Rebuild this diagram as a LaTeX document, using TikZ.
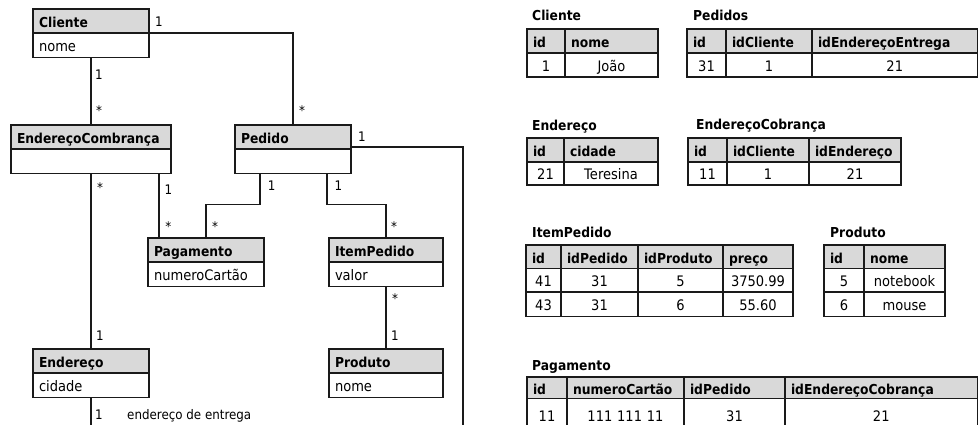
\documentclass[tikz,border=0pt]{standalone}
\usepackage{fontspec}
\setmainfont{DejaVu Sans}[FakeStretch=0.9]
\usetikzlibrary{calc}

\definecolor{headgray}{HTML}{D9D9D9}
\definecolor{ink}{HTML}{1A1A1A}

\newcommand\regfont{\fontsize{14.5}{16}\selectfont}
\newcommand\boldfont{\fontsize{13.7}{16}\selectfont\bfseries}
\newcommand\labfont{\fontsize{13.2}{15}\selectfont}

\tikzset{
  cellbox/.style={draw=ink, line width=1.1pt, inner xsep=6pt, inner ysep=0pt,
    outer sep=0pt, text height=12.5pt, text depth=0pt},
  uhead/.style={cellbox, fill=headgray, font=\boldfont, align=left, minimum height=24pt},
  ubody/.style={cellbox, fill=white, font=\regfont, align=left, minimum height=24.5pt},
  thead/.style={cellbox, fill=headgray, font=\boldfont, align=left},
  tdata/.style={cellbox, fill=white, font=\regfont, align=center},
  ttitle/.style={font=\boldfont, anchor=base west, inner sep=0pt},
  mult/.style={font=\labfont, anchor=base, inner sep=0pt},
  link/.style={draw=ink, line width=1.4pt},
}

% UML class: name, x, y, width, title, attribute
\newcommand\umlclass[6]{%
  \pgfmathsetmacro\ucw{#4-12}%
  \node[uhead, anchor=north west, text width=\ucw pt, minimum width=#4pt] (#1) at (#2,#3) {#5};
  \node[ubody, anchor=north, text width=\ucw pt, minimum width=#4pt] (#1-a) at (#1.south) {#6};
}

% table cell: style, name, x1, y1, x2, y2, text
\newcommand\tcell[7]{%
  \pgfmathsetmacro\tcw{#5-#3}%
  \pgfmathsetmacro\tch{#6-#4}%
  \pgfmathsetmacro\tctw{#5-#3-12}%
  \node[#1, anchor=north west, minimum width=\tcw pt, minimum height=\tch pt,
    text width=\tctw pt] (#2) at (#3,#4) {#7};
}

\begin{document}
\begin{tikzpicture}[x=1pt, y=-1pt]
\useasboundingbox (0,0) rectangle (978,425);
\clip (0,0) rectangle (978,425);

% ---------------- class diagram ----------------
\umlclass{cliente}{33}{9}{116}{Cliente}{nome}
\umlclass{ec}{11}{125}{160}{EndereçoCombrança}{}
\umlclass{pedido}{235}{125}{116}{Pedido}{}
\umlclass{pagamento}{148}{238}{116}{Pagamento}{numeroCartão}
\umlclass{item}{329}{238}{114}{ItemPedido}{valor}
\umlclass{endereco}{33}{349}{116}{Endereço}{cidade}
\umlclass{produto}{329}{349}{114}{Produto}{nome}

\coordinate (pedido-end) at (463,428);
\coordinate (entrega-end) at (91,428);

\draw[link] (cliente.south east) -| (pedido.north);
\draw[link] (cliente-a.south) -- (cliente-a.south |- ec.north);
\draw[link] (ec-a.south) -- (ec-a.south |- endereco.north);
\draw[link] ($(ec-a.south east)+(-12,0)$) coordinate (ecp) -- (ecp |- pagamento.north);
\draw[link] ($(pedido-a.south west)+(25,0)$) -- ++(0,31) -| (pagamento.north);
\draw[link] ($(pedido-a.south east)+(-24,0)$) -- ++(0,31) -| (item.north);
\draw[link] (item-a.south) -- (produto.north);
\draw[link] ($(pedido.south east)+(0,-2)$) -| (pedido-end);
\draw[link] (endereco-a.south) -- (entrega-end);

\node[mult] (m1)  at (159,26.7)   {1};
\node[mult] (m2)  at (99,80)      {1};
\node[mult] (m3)  at (99,116)     {*};
\node[mult] (m4)  at (302,116)    {*};
\node[mult] (m5)  at (362,141.7)  {1};
\node[mult] (m6)  at (100,193)    {*};
\node[mult] (m7)  at (168.5,194)  {1};
\node[mult] (m8)  at (271.7,190.7){1};
\node[mult] (m9)  at (338.3,190.7){1};
\node[mult] (m10) at (168.3,231)  {*};
\node[mult] (m11) at (215,231)    {*};
\node[mult] (m12) at (394,231)    {*};
\node[mult] (m13) at (395,303)    {*};
\node[mult] (m14) at (395,340.7)  {1};
\node[mult] (m15) at (100,340.7)  {1};
\node[mult] (m16) at (99,419)     {1};
\node[font=\labfont, anchor=base west, inner sep=0pt] (entrega) at (127,419) {endereço de entrega};

% ---------------- tables ----------------
\node[ttitle] (t-cliente) at (532,21) {Cliente};
\foreach \xa/\xb/\t [count=\i] in {527/565/id, 565/658/nome}
  {\tcell{thead}{cl-h\i}{\xa}{29}{\xb}{53}{\t}}
\foreach \xa/\xb/\t [count=\i] in {527/565/1, 565/658/João}
  {\tcell{tdata}{cl-d\i}{\xa}{53}{\xb}{77}{\t}}

\node[ttitle] (t-pedidos) at (693,21) {Pedidos};
\foreach \xa/\xb/\t [count=\i] in {687/726/id, 726/812/idCliente, 812/977.5/idEndereçoEntrega}
  {\tcell{thead}{pe-h\i}{\xa}{29}{\xb}{53}{\t}}
\foreach \xa/\xb/\t [count=\i] in {687/726/31, 726/812/1, 812/977.5/21}
  {\tcell{tdata}{pe-d\i}{\xa}{53}{\xb}{77}{\t}}

\node[ttitle] (t-endereco) at (532,131) {Endereço};
\foreach \xa/\xb/\t [count=\i] in {527/564/id, 564/658/cidade}
  {\tcell{thead}{en-h\i}{\xa}{138}{\xb}{162}{\t}}
\foreach \xa/\xb/\t [count=\i] in {527/564/21, 564/658/Teresina}
  {\tcell{tdata}{en-d\i}{\xa}{162}{\xb}{185}{\t}}

\node[ttitle] (t-ecob) at (696,130) {EndereçoCobrança};
\foreach \xa/\xb/\t [count=\i] in {688/727/id, 727/809/idCliente, 809/901/idEndereço}
  {\tcell{thead}{ecb-h\i}{\xa}{138}{\xb}{162}{\t}}
\foreach \xa/\xb/\t [count=\i] in {688/727/11, 727/809/1, 809/901/21}
  {\tcell{tdata}{ecb-d\i}{\xa}{162}{\xb}{185}{\t}}

\node[ttitle] (t-item) at (532,237) {ItemPedido};
\foreach \xa/\xb/\t [count=\i] in {526/561/id, 561/638/idPedido, 638/723/idProduto, 723/793/preço}
  {\tcell{thead}{it-h\i}{\xa}{245}{\xb}{268.5}{\t}}
\foreach \xa/\xb/\t [count=\i] in {526/561/41, 561/638/31, 638/723/5, 723/793/3750.99}
  {\tcell{tdata}{it-d\i}{\xa}{268.5}{\xb}{292}{\t}}
\foreach \xa/\xb/\t [count=\i] in {526/561/43, 561/638/31, 638/723/6, 723/793/55.60}
  {\tcell{tdata}{it-e\i}{\xa}{292}{\xb}{316.5}{\t}}

\node[ttitle] (t-produto) at (830,237) {Produto};
\foreach \xa/\xb/\t [count=\i] in {824/864/id, 864/945/nome}
  {\tcell{thead}{pr-h\i}{\xa}{245}{\xb}{268.5}{\t}}
\foreach \xa/\xb/\t [count=\i] in {824/864/5, 864/945/notebook}
  {\tcell{tdata}{pr-d\i}{\xa}{268.5}{\xb}{292}{\t}}
\foreach \xa/\xb/\t [count=\i] in {824/864/6, 864/945/mouse}
  {\tcell{tdata}{pr-e\i}{\xa}{292}{\xb}{316.5}{\t}}

\node[ttitle] (t-pagamento) at (532,370.5) {Pagamento};
\foreach \xa/\xb/\t [count=\i] in {527/567/id, 567/684/numeroCartão, 684/785/idPedido, 785/977.5/idEndereçoCobrança}
  {\tcell{thead}{pa-h\i}{\xa}{377}{\xb}{398.5}{\t}}
\foreach \xa/\xb/\t [count=\i] in {527/567/11, 567/684/111 111 11, 684/785/31, 785/977.5/21}
  {\tcell{tdata}{pa-d\i}{\xa}{398.5}{\xb}{431}{\t}}
\end{tikzpicture}
\end{document}
